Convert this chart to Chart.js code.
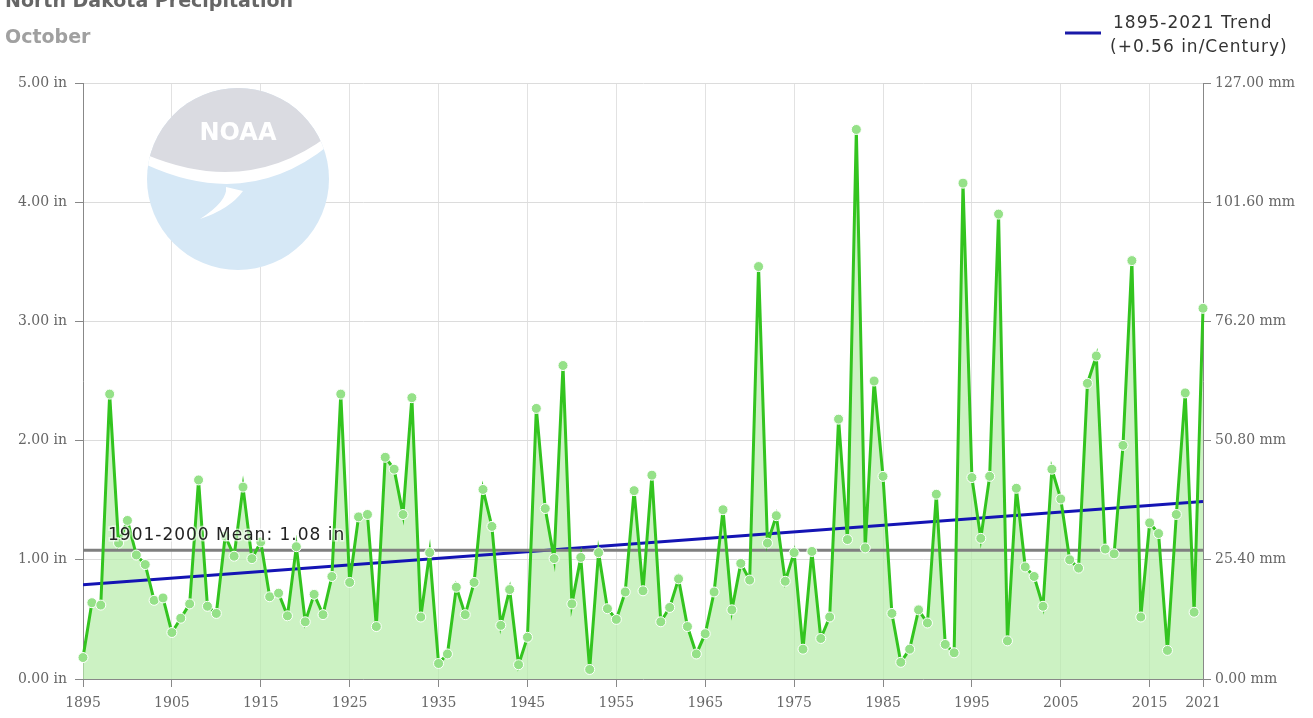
<!DOCTYPE html>
<html>
<head>
<meta charset="utf-8">
<title>North Dakota Precipitation - October</title>
<script src="https://cdn.jsdelivr.net/npm/chart.js@4.4.1/dist/chart.umd.min.js"></script>
<style>
  html, body { margin: 0; padding: 0; background: #fff; }
  #wrap { width: 1313px; height: 718px; }
</style>
</head>
<body>
<div id="wrap"><canvas id="myChart" width="1313" height="718"></canvas></div>
<script>
'use strict';

// -------------------- data --------------------
const firstYear = 1895;
const lastYear = 2021;
const years = Array.from({length: lastYear - firstYear + 1}, (_, i) => firstYear + i);

// October precipitation (in)
const precip = [
  0.18, 0.64, 0.62, 2.39, 1.14, 1.33, 1.04, 0.96, 0.66, 0.68, // 1895-1904
  0.39, 0.51, 0.63, 1.67, 0.61, 0.55, 1.20, 1.03, 1.61, 1.01, // 1905-1914
  1.15, 0.69, 0.72, 0.53, 1.11, 0.48, 0.71, 0.54, 0.86, 2.39, // 1915-1924
  0.81, 1.36, 1.38, 0.44, 1.86, 1.76, 1.38, 2.36, 0.52, 1.06, // 1925-1934
  0.13, 0.21, 0.77, 0.54, 0.81, 1.59, 1.28, 0.45, 0.75, 0.12, // 1935-1944
  0.35, 2.27, 1.43, 1.01, 2.63, 0.63, 1.02, 0.08, 1.06, 0.59, // 1945-1954
  0.50, 0.73, 1.58, 0.74, 1.71, 0.48, 0.60, 0.84, 0.44, 0.21, // 1955-1964
  0.38, 0.73, 1.42, 0.58, 0.97, 0.83, 3.46, 1.14, 1.37, 0.82, // 1965-1974
  1.06, 0.25, 1.07, 0.34, 0.52, 2.18, 1.17, 4.61, 1.10, 2.50, // 1975-1984
  1.70, 0.55, 0.14, 0.25, 0.58, 0.47, 1.55, 0.29, 0.22, 4.16, // 1985-1994
  1.69, 1.18, 1.70, 3.90, 0.32, 1.60, 0.94, 0.86, 0.61, 1.76, // 1995-2004
  1.51, 1.00, 0.93, 2.48, 2.71, 1.09, 1.05, 1.96, 3.51, 0.52, // 2005-2014
  1.31, 1.22, 0.24, 1.38, 2.40, 0.56, 3.11                    // 2015-2021
];

const trendYears = [1895, 2021];
const trendValues = [0.79, 1.49];
const meanYears = [1895, 2021];
const meanValue = 1.08;

const yearTicks = [1895, 1905, 1915, 1925, 1935, 1945, 1955, 1965, 1975, 1985, 1995, 2005, 2015, 2021];
const inTicks = [0, 1, 2, 3, 4, 5];
const mmTicks = [0, 25.4, 50.8, 76.2, 101.6, 127];

// -------------------- plugins --------------------
// NOAA watermark (rough drawing)
const noaaLogo = {
  id: 'noaaLogo',
  beforeDatasetsDraw(chart) {
    const ctx = chart.ctx;
    const cx = 238, cy = 179, r = 91;
    ctx.save();
    ctx.beginPath();
    ctx.arc(cx, cy, r, 0, Math.PI * 2);
    ctx.fillStyle = '#d6e8f6';
    ctx.fill();
    ctx.clip();

    // grey dome
    ctx.beginPath();
    ctx.moveTo(cx - r, cy - r);
    ctx.lineTo(cx + r, cy - r);
    ctx.lineTo(cx + r, cy - 42);
    ctx.quadraticCurveTo(cx + 10, cy + 22, cx - r, cy - 22);
    ctx.closePath();
    ctx.fillStyle = '#dadbe1';
    ctx.fill();

    // white bird
    ctx.beginPath();
    ctx.moveTo(cx - r, cy - 14);
    ctx.quadraticCurveTo(cx + 10, cy + 32, cx + r, cy - 34);
    ctx.lineTo(cx + r, cy - 44);
    ctx.quadraticCurveTo(cx + 10, cy + 18, cx - r, cy - 24);
    ctx.closePath();
    ctx.fillStyle = '#ffffff';
    ctx.fill();

    ctx.beginPath();
    ctx.moveTo(cx + 5, cy + 12);
    ctx.quadraticCurveTo(cx - 8, cy + 30, cx - 38, cy + 40);
    ctx.quadraticCurveTo(cx - 10, cy + 22, cx - 12, cy + 8);
    ctx.closePath();
    ctx.fill();

    ctx.font = 'bold 24px "DejaVu Sans"';
    ctx.textAlign = 'center';
    ctx.textBaseline = 'middle';
    ctx.fillText('NOAA', cx, cy - 45);
    ctx.restore();
  }
};

// title, legend and mean label
const chartTexts = {
  id: 'chartTexts',
  afterDatasetsDraw(chart) {
    const ctx = chart.ctx;
    const yIn = chart.scales.yIn;
    ctx.save();

    // mean label
    const meanY = yIn.getPixelForValue(meanValue);
    ctx.font = '17px "DejaVu Sans"';
    ctx.letterSpacing = '1px';
    ctx.textBaseline = 'alphabetic';
    ctx.lineWidth = 3;
    ctx.strokeStyle = 'rgba(255,255,255,0.6)';
    const meanText = '1901-2000 Mean: ' + meanValue.toFixed(2) + ' in';
    ctx.strokeText(meanText, 108, meanY - 10);
    ctx.fillStyle = '#222';
    ctx.fillText(meanText, 108, meanY - 10);

    // title
    ctx.letterSpacing = '0px';
    ctx.font = 'bold 19px "DejaVu Sans"';
    ctx.fillStyle = '#666';
    ctx.fillText('North Dakota Precipitation', 5, 7);
    ctx.fillStyle = '#a0a0a0';
    ctx.fillText('October', 5, 43);

    // legend
    ctx.beginPath();
    ctx.moveTo(1065, 33);
    ctx.lineTo(1101, 33);
    ctx.lineWidth = 3;
    ctx.strokeStyle = '#1a1aa8';
    ctx.stroke();
    ctx.font = '17px "DejaVu Sans"';
    ctx.letterSpacing = '1px';
    ctx.fillStyle = '#333';
    ctx.fillText('1895-2021 Trend', 1113, 28);
    ctx.fillText('(+0.56 in/Century)', 1110, 52);
    ctx.restore();
  }
};

// -------------------- Chart.js --------------------
{
  const tickFont = {family: '"DejaVu Serif", "Liberation Serif", serif', size: 14};

  const ctx = document.getElementById('myChart').getContext('2d');
  const myChart = new Chart(ctx, {
    type: 'line',
    data: {
      datasets: [{
        label: 'Precipitation',
        data: years.map((y, i) => ({x: y, y: precip[i]})),
        yAxisID: 'yIn',
        borderColor: '#33c41f',
        borderWidth: 3,
        backgroundColor: 'rgba(182,236,170,0.7)',
        fill: 'origin',
        tension: 0,
        pointRadius: 5,
        pointBackgroundColor: '#95e188',
        pointBorderColor: '#ffffff',
        pointBorderWidth: 1,
        clip: false
      }, {
        label: '1901-2000 Mean',
        data: meanYears.map(y => ({x: y, y: meanValue})),
        yAxisID: 'yIn',
        borderColor: '#7f7f7f',
        borderWidth: 3,
        pointRadius: 0,
        fill: false
      }, {
        label: '1895-2021 Trend',
        data: trendYears.map((y, i) => ({x: y, y: trendValues[i]})),
        yAxisID: 'yIn',
        borderColor: '#1414b4',
        borderWidth: 3,
        pointRadius: 0,
        fill: false
      }]
    },
    options: {
      responsive: false,
      animation: false,
      devicePixelRatio: 1,
      layout: {padding: {top: 83, left: 0, right: 0, bottom: 0}},
      plugins: {
        legend: {display: false},
        tooltip: {enabled: false},
        filler: {drawTime: 'beforeDatasetsDraw'}
      },
      scales: {
        x: {
          type: 'linear',
          min: firstYear,
          max: lastYear,
          afterBuildTicks: axis => { axis.ticks = yearTicks.map(v => ({value: v})); },
          afterFit: axis => { axis.height = 39; },
          ticks: {
            callback: v => String(v),
            color: '#666',
            font: tickFont,
            padding: 8,
            maxRotation: 0,
            autoSkip: false
          },
          grid: {color: '#e2e2e2', tickColor: '#888', tickLength: 8},
          border: {color: '#888'}
        },
        yIn: {
          position: 'left',
          min: 0,
          max: 5,
          afterBuildTicks: axis => { axis.ticks = inTicks.map(v => ({value: v})); },
          afterFit: axis => { axis.width = 83; },
          ticks: {
            callback: v => v.toFixed(2) + ' in',
            color: '#666',
            font: tickFont,
            padding: 8
          },
          grid: {color: '#dcdcdc', tickColor: '#888', tickLength: 8},
          border: {color: '#888'}
        },
        yMm: {
          position: 'right',
          min: 0,
          max: 127,
          afterBuildTicks: axis => { axis.ticks = mmTicks.map(v => ({value: v})); },
          afterFit: axis => { axis.width = 110; },
          ticks: {
            callback: v => v.toFixed(2) + ' mm',
            color: '#666',
            font: tickFont,
            padding: 4
          },
          grid: {drawOnChartArea: false, tickColor: '#888', tickLength: 8},
          border: {color: '#888'}
        }
      }
    },
    plugins: [noaaLogo, chartTexts]
  });
}
</script>
</body>
</html>
